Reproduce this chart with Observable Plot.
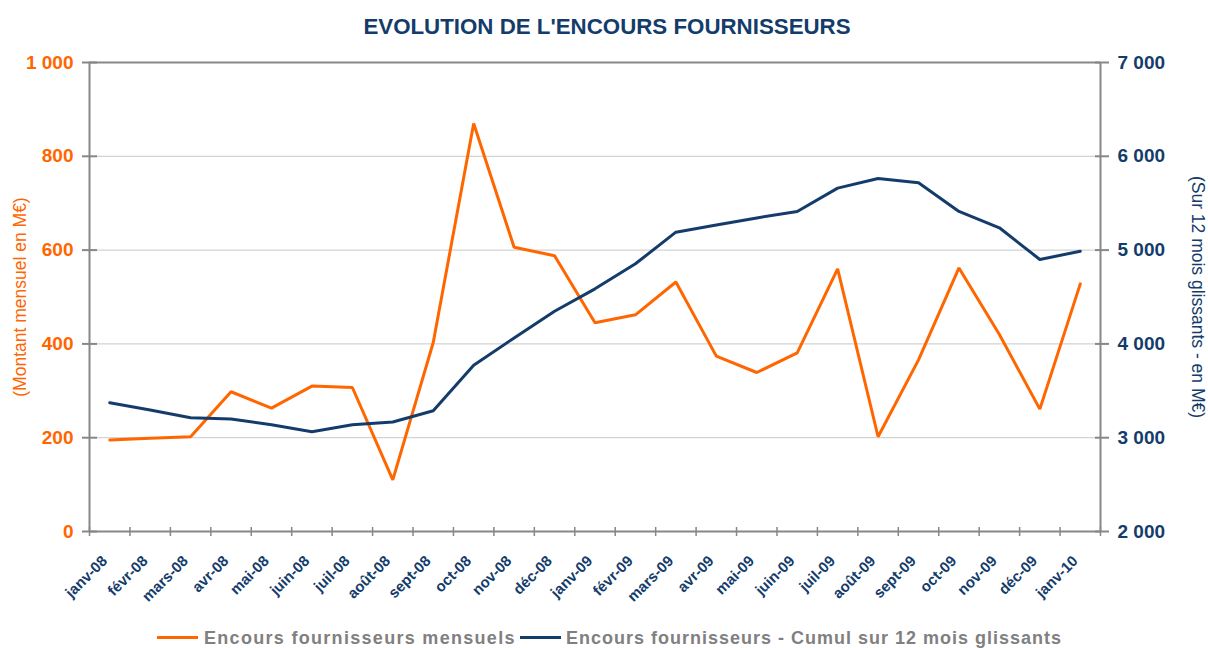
<!DOCTYPE html>
<html>
<head>
<meta charset="utf-8">
<script src="https://cdn.jsdelivr.net/npm/d3@7"></script>
<script src="https://cdn.jsdelivr.net/npm/@observablehq/plot@0.6"></script>
<style>
  html, body { margin: 0; padding: 0; background: #fff; }
  #wrap { position: relative; width: 1208px; height: 648px; font-family: "Liberation Sans", Arial, sans-serif; }
  #wrap svg { position: absolute; left: 0; top: 0; }
  #title { position: absolute; left: 3px; top: 16px; width: 1208px; text-align: center; font-size: 22.3px; line-height: 22px; font-weight: bold; color: #143C6B; }
  .leg-line { position: absolute; height: 3px; width: 41px; top: 636px; }
  .leg-text { position: absolute; top: 627px; font-size: 18px; line-height: 22px; font-weight: bold; color: #808080; white-space: nowrap; }
</style>
</head>
<body>
<div id="wrap">
  <div id="title">EVOLUTION DE L'ENCOURS FOURNISSEURS</div>
  <div class="leg-line" style="left:157px;background:#FF6600"></div>
  <div class="leg-text" style="left:204px;letter-spacing:1.3px">Encours fournisseurs mensuels</div>
  <div class="leg-line" style="left:520px;background:#143C6B"></div>
  <div class="leg-text" style="left:566px;letter-spacing:1.0px">Encours fournisseurs - Cumul sur 12 mois glissants</div>
</div>
<script>
const months = ["janv-08","févr-08","mars-08","avr-08","mai-08","juin-08","juil-08","août-08","sept-08","oct-08","nov-08","déc-08",
  "janv-09","févr-09","mars-09","avr-09","mai-09","juin-09","juil-09","août-09","sept-09","oct-09","nov-09","déc-09","janv-10"];
const mensuel = [195, 199, 202, 298, 263, 310, 307, 110, 403, 870, 606, 588,
  445, 462, 532, 374, 339, 381, 560, 202, 366, 562, 420, 261, 528];
const cumul = [3373, 3295, 3213, 3200, 3139, 3064, 3139, 3167, 3288, 3772, 4064, 4348,
  4587, 4854, 5191, 5267, 5343, 5412, 5661, 5764, 5718, 5412, 5238, 4900, 4988];
const leftTicks = [0, 200, 400, 600, 800, 1000];
const rightTicks = [2000, 3000, 4000, 5000, 6000, 7000];
const leftTitle = "(Montant mensuel en M€)";
const rightTitle = "(Sur 12 mois glissants - en M€)";

const ORANGE = "#FF6600", NAVY = "#143C6B", AXIS = "#878787", GRID = "#c8c8c8";
const fmt = d3.formatLocale({decimal: ",", thousands: "\u00a0", grouping: [3], currency: ["", "€"]}).format(",d");

// right axis mapped onto left scale: [2000,7000] -> [0,1000]
const r0 = rightTicks[0], rk = (rightTicks[rightTicks.length - 1] - rightTicks[0]) / (leftTicks[leftTicks.length - 1] - leftTicks[0]);
const toLeft = v => (v - r0) / rk;

const rows = months.map((m, i) => ({i, m, mensuel: mensuel[i], cumul: cumul[i]}));
const idx = d3.range(months.length);
const bounds = d3.range(months.length + 1).map(i => i - 0.5);

const chart = Plot.plot({
  width: 1208, height: 648,
  marginLeft: 89, marginRight: 108, marginTop: 62, marginBottom: 117,
  style: {fontFamily: "'Liberation Sans', Arial, sans-serif", background: "transparent", overflow: "visible"},
  x: {type: "linear", domain: [-0.5, months.length - 0.5], axis: null},
  y: {domain: [leftTicks[0], leftTicks[leftTicks.length - 1]], axis: null},
  marks: [
    Plot.gridY(leftTicks.slice(1, -1), {stroke: GRID, strokeOpacity: 1, strokeWidth: 1}),
    Plot.ruleY([leftTicks[0], leftTicks[leftTicks.length - 1]], {stroke: AXIS, strokeWidth: 2}),
    Plot.ruleX([-0.5, months.length - 0.5], {stroke: AXIS, strokeWidth: 2}),
    // left axis ticks + labels
    Plot.axisY(leftTicks, {anchor: "left", tickSize: 7, tickFormat: () => "", stroke: AXIS, strokeWidth: 2, label: null}),
    Plot.axisY(leftTicks, {anchor: "left", tickSize: -8, tickFormat: () => "", stroke: AXIS, strokeWidth: 2, label: null}),
    Plot.axisY(leftTicks, {anchor: "left", tickSize: 0, tickPadding: 16, tickFormat: fmt, fill: ORANGE, fontSize: 19, fontWeight: "bold", label: null}),
    // right axis ticks + labels
    Plot.axisY(rightTicks.map(toLeft), {anchor: "right", tickSize: 8, tickFormat: () => "", stroke: AXIS, strokeWidth: 2, label: null}),
    Plot.axisY(rightTicks.map(toLeft), {anchor: "right", tickSize: -6, tickFormat: () => "", stroke: AXIS, strokeWidth: 2, label: null}),
    Plot.axisY(rightTicks.map(toLeft), {anchor: "right", tickSize: 0, tickPadding: 17, tickFormat: d => fmt(Math.round(d * rk + r0)), fill: NAVY, fontSize: 19, fontWeight: "bold", label: null}),
    // x axis ticks at month boundaries
    Plot.axisX(bounds, {anchor: "bottom", tickSize: 5, tickFormat: () => "", stroke: AXIS, strokeWidth: 1.5, label: null}),
    Plot.axisX(bounds, {anchor: "bottom", tickSize: -4, tickFormat: () => "", stroke: AXIS, strokeWidth: 1.5, label: null}),
    // x labels at band centers
    Plot.axisX(idx, {anchor: "bottom", tickSize: 0, tickPadding: 27, tickRotate: -45, tickFormat: i => months[i], fill: NAVY, fontSize: 15, fontWeight: "bold", dx: -5, label: null}),
    // series
    Plot.line(rows, {x: "i", y: "mensuel", stroke: ORANGE, strokeWidth: 3, strokeLinejoin: "miter"}),
    Plot.line(rows, {x: "i", y: d => toLeft(d.cumul), stroke: NAVY, strokeWidth: 3, strokeLinejoin: "round"}),
    // axis titles
    Plot.text([leftTitle], {frameAnchor: "left", textAnchor: "middle", rotate: -90, dx: -69, text: d => d, fill: ORANGE, fontSize: 17.5}),
    Plot.text([rightTitle], {frameAnchor: "right", textAnchor: "middle", rotate: 90, dx: 97, text: d => d, fill: NAVY, fontSize: 17.5})
  ]
});
document.getElementById("wrap").prepend(chart);
</script>
</body>
</html>
